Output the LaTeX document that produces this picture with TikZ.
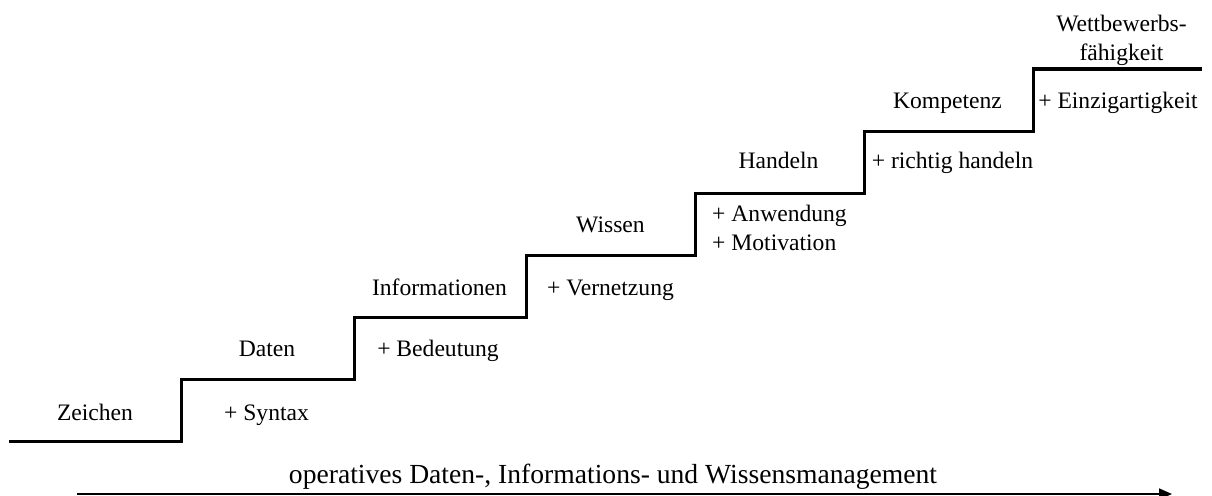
\documentclass[tikz,border=0pt]{standalone}
\usepackage{fontspec}
\setmainfont{Liberation Serif}
\usetikzlibrary{arrows.meta}
\begin{document}
\begin{tikzpicture}[x=1pt,y=-1pt,
  lbl/.style={inner sep=0pt,anchor=base,font=\fontsize{23.6}{28.5}\selectfont},
  lblleft/.style={lbl,anchor=base west,align=left},
  stair/.style={line width=3pt,line join=miter,line cap=butt},
  flow/.style={line width=1.6pt,-{Triangle[length=13pt,width=11pt]}}]
  \useasboundingbox (0,0) rectangle (1212,495);

  % staircase
  \draw[stair] (9,441.5) -- (181.5,441.5) -- (181.5,379.5) -- (354,379.5)
    -- (354,317) -- (526,317) -- (526,255.5) -- (695.5,255.5)
    -- (695.5,193) -- (864,193) -- (864,131.5) -- (1033,131.5)
    -- (1033,69) -- (1202,69);

  % step names
  \node[lbl] (zeichen) at (95,420) {Zeichen};
  \node[lbl] (daten) at (267,356) {Daten};
  \node[lbl] (info) at (439.5,295) {Informationen};
  \node[lbl] (wissen) at (610.5,232) {Wissen};
  \node[lbl] (handeln) at (778.5,168) {Handeln};
  \node[lbl] (kompetenz) at (947.5,108) {Kompetenz};
  \node[lbl,align=center] (wettbewerb) at (1121.5,60) {Wettbewerbs-\\fähigkeit};

  % what each step adds
  \node[lbl] (syntax) at (266.5,420) {+ Syntax};
  \node[lbl] (bedeutung) at (438,356) {+ Bedeutung};
  \node[lbl] (vernetzung) at (610.5,295) {+ Vernetzung};
  \node[lblleft] (anwendung) at (712,250) {+ Anwendung\\+ Motivation};
  \node[lbl] (richtig) at (952.5,168) {+ richtig handeln};
  \node[lbl] (einzig) at (1118,108) {+ Einzigartigkeit};

  % management arrow
  \node[lbl,font=\fontsize{27.6}{33}\selectfont] (mgmt) at (613,483) {operatives Daten-, Informations- und Wissensmanagement};
  \coordinate (arrA) at (77,494);
  \coordinate (arrB) at (1172,494);
  \draw[flow] (arrA) -- (arrB);
\end{tikzpicture}
\end{document}
